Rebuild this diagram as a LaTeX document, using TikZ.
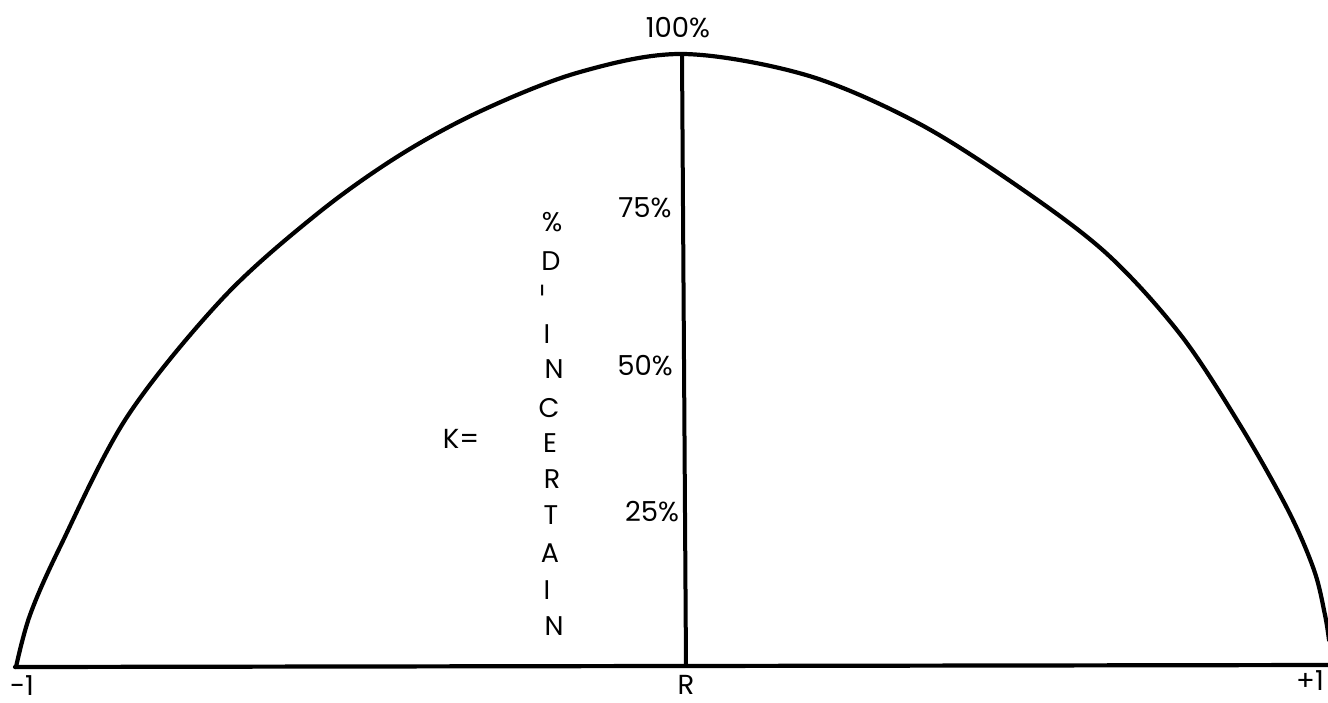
\documentclass[tikz,border=0pt]{standalone}
\usepackage{fontspec}
\setmainfont{Poppins}
\begin{document}
\begin{tikzpicture}[x=1pt,y=-1pt,
  lbl/.style={inner sep=0pt,font=\fontsize{27.5}{28}\selectfont},
  vlet/.style={inner sep=0pt,font=\fontsize{27}{27}\selectfont},
  heavy/.style={line width=4.2pt,line cap=round,line join=round}]
\useasboundingbox (0,0) rectangle (1328,702);
\fill[white] (0,0) rectangle (1328,702);
% key points
\coordinate (L) at (15,667);
\coordinate (Rr) at (1330,665);
\coordinate (top) at (682,54);
\coordinate (foot) at (686,667);
% curve
\draw[heavy] plot[smooth,tension=0.55] coordinates {
 (16,667) (30,615) (60,547) (127,417) (223,298) (317,214) (400,155) (483,110)
 (580,72) (683,54) (806,75) (916,122) (1016,185) (1106,253)
 (1180,334) (1240,425) (1288,510) (1314,570) (1325,615) (1329,640)};
% axes
\draw[heavy] (L) -- (Rr);
\draw[line width=4pt] (top) -- (foot);
% percentage labels
\node[lbl] (p100) at (678,28) {100\%};
\node[lbl] (p75) at (645,208) {75\%};
\node[lbl] (p50) at (645,366) {50\%};
\node[lbl] (p25) at (652,512) {25\%};
\node[lbl] (K) at (461,439) {K=};
% vertical word
\node[vlet] (v1) at (552,222) {\%};
\node[vlet] (v2) at (551,261) {D};
\node[vlet] (v3) at (547,290) {\rotatebox{90}{-}};
\node[vlet] (v4) at (547,334) {I};
\node[vlet] (v5) at (554,369) {N};
\node[vlet] (v6) at (549,408) {C};
\node[vlet] (v7) at (550,443) {E};
\node[vlet] (v8) at (552,479) {R};
\node[vlet] (v9) at (551,515) {T};
\node[vlet] (v10) at (550,553) {A};
\node[vlet] (v11) at (547,590) {I};
\node[vlet] (v12) at (554,626) {N};
% axis labels
\node[lbl] (m1) at (22,686) {-1};
\node[lbl] (Rl) at (686,685) {R};
\node[lbl] (p1) at (1310,681) {+1};
\end{tikzpicture}
\end{document}
